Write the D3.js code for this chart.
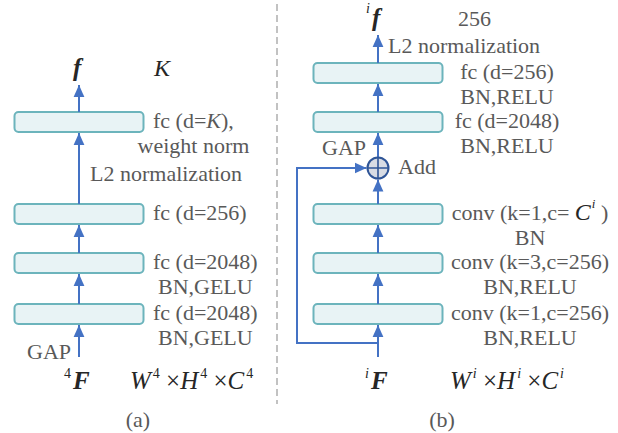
<!DOCTYPE html>
<html>
<head>
<meta charset="utf-8">
<script src="https://cdn.jsdelivr.net/npm/d3@7"></script>
<style>
  body { margin: 0; background: #fff; }
  text { font-family: "Liberation Serif", "Times New Roman", serif; }
</style>
</head>
<body>
<div id="chart"></div>
<script>
// layers, bottom to top; level = vertical slot
const leftLayers = [
  {level: 0, lines: ["fc (d=2048)", "BN,GELU"]},
  {level: 1, lines: ["fc (d=2048)", "BN,GELU"]},
  {level: 2, lines: ["fc (d=256)"]},
  {level: 4, lines: ["fc (d=K),", "weight norm"]}
];
const rightLayers = [
  {level: 0, lines: ["conv (k=1,c=256)", "BN,RELU"]},
  {level: 1, lines: ["conv (k=3,c=256)", "BN,RELU"]},
  {level: 2, lines: ["conv (k=1,c= C^i )", "BN"]},
  {level: 4, lines: ["fc (d=2048)", "BN,RELU"]},
  {level: 5, lines: ["fc (d=256)", "BN,RELU"]}
];
const addLevel = 3;
const panelNames = ["(a)", "(b)"];
const outDims = ["K", "256"];

const width = 618, height = 433;
const blue = "#4472c4", gray = "#595959", ink = "#262626";
const boxW = 129, boxH = 20;
const fs = "22px";
const lift = -2; // text sits a touch above the box centre

const svg = d3.select("#chart").append("svg")
  .attr("width", width).attr("height", height);

const defs = svg.append("defs");
defs.append("marker")
  .attr("id", "head")
  .attr("viewBox", "0 0 10 10")
  .attr("refX", 10).attr("refY", 5)
  .attr("markerWidth", 12).attr("markerHeight", 12)
  .attr("markerUnits", "userSpaceOnUse")
  .attr("orient", "auto")
  .append("path").attr("d", "M0,0.5 L10,5 L0,9.5 Z").attr("fill", blue);

const y = d3.scaleLinear()
  .domain([0, 1, 2, 3, 4, 5])
  .range([314, 263, 214, 168, 122, 73]);

// divider
svg.append("line")
  .attr("x1", 277).attr("x2", 277).attr("y1", 4).attr("y2", 404)
  .attr("stroke", "#b3b3b3").attr("stroke-width", 1.6)
  .attr("stroke-dasharray", "7,4");

function arrow(x1, y1, x2, y2) {
  svg.append("line")
    .attr("x1", x1).attr("y1", y1).attr("x2", x2).attr("y2", y2)
    .attr("stroke", blue).attr("stroke-width", 2)
    .attr("marker-end", "url(#head)");
}

function boxes(layers, cx) {
  svg.append("g").selectAll("rect")
    .data(layers).enter().append("rect")
    .attr("x", cx - boxW / 2)
    .attr("y", d => y(d.level) - boxH / 2)
    .attr("width", boxW).attr("height", boxH)
    .attr("rx", 4)
    .attr("fill", "#e8f3f5")
    .attr("stroke", "#6cb4bc").attr("stroke-width", 2);
}

function labelText(g, str, x, yy, anchor) {
  const t = g.append("text")
    .attr("x", x).attr("y", yy + lift)
    .attr("text-anchor", anchor)
    .attr("dominant-baseline", "central")
    .attr("fill", gray).style("font-size", fs);
  if (str.includes("K")) {
    const p = str.split("K");
    t.append("tspan").text(p[0]);
    t.append("tspan").attr("font-style", "italic").text("K");
    t.append("tspan").text(p[1]);
  } else if (str.includes("C^i")) {
    const p = str.split("C^i");
    t.append("tspan").text(p[0]);
    t.append("tspan").attr("font-style", "italic").attr("fill", ink)
      .style("font-size", "24px").text("C");
    t.append("tspan").attr("font-style", "italic").attr("fill", ink)
      .attr("dy", -9).attr("dx", 1).style("font-size", "13px").text("i");
    t.append("tspan").attr("dy", 9).text(p[1]);
  } else {
    t.text(str);
  }
  return t;
}

// ---- left panel (a)
const lx = 79;
boxes(leftLayers, lx);
const lg = svg.append("g");
leftLayers.forEach(d => {
  const t1 = labelText(lg, d.lines[0], 153, y(d.level), "start");
  if (d.lines[1]) {
    const w = t1.node().getComputedTextLength();
    labelText(lg, d.lines[1], 153 + w / 2, y(d.level) + 25, "middle");
  }
});
arrow(lx, 357, lx, y(0) + boxH / 2 + 1);
for (let i = 1; i < leftLayers.length; i++) {
  arrow(lx, y(leftLayers[i - 1].level) - boxH / 2,
        lx, y(leftLayers[i].level) + boxH / 2 + 1);
}
arrow(lx, y(4) - boxH / 2, lx, 85);
labelText(lg, "L2 normalization", 90, 175, "start");
labelText(lg, "GAP", 27, 353, "start");

// ---- right panel (b)
const rx = 378;
boxes(rightLayers, rx);
const rg = svg.append("g");
rightLayers.forEach(d => {
  const cx = d.level >= 4 ? 507 : 530;
  labelText(rg, d.lines[0], cx, y(d.level), "middle");
  if (d.lines[1]) labelText(rg, d.lines[1], cx, y(d.level) + 25, "middle");
});
const addR = 10.5;
arrow(rx, 357, rx, y(0) + boxH / 2 + 1);
arrow(rx, y(0) - boxH / 2, rx, y(1) + boxH / 2 + 1);
arrow(rx, y(1) - boxH / 2, rx, y(2) + boxH / 2 + 1);
arrow(rx, y(2) - boxH / 2, rx, y(addLevel) + addR + 1);
arrow(rx, y(addLevel) - addR, rx, y(4) + boxH / 2 + 1);
arrow(rx, y(4) - boxH / 2, rx, y(5) + boxH / 2 + 1);
arrow(rx, y(5) - boxH / 2, rx, 35);

// skip connection
svg.append("path")
  .attr("d", `M${rx},${343} H297 V${y(addLevel)} H${rx - addR - 1}`)
  .attr("fill", "none").attr("stroke", blue).attr("stroke-width", 2)
  .attr("marker-end", "url(#head)");

const add = svg.append("g");
add.append("circle").attr("cx", rx).attr("cy", y(addLevel)).attr("r", addR)
  .attr("fill", "#d8dce4").attr("stroke", "#2f5597").attr("stroke-width", 2);
add.append("path")
  .attr("d", `M${rx - addR},${y(addLevel)} H${rx + addR} M${rx},${y(addLevel) - addR} V${y(addLevel) + addR}`)
  .attr("stroke", "#2f5597").attr("stroke-width", 1.6);
labelText(rg, "Add", 398, y(addLevel), "start");
labelText(rg, "GAP", 322, 149, "start");
labelText(rg, "L2 normalization", 388, 47, "start");

// ---- math labels
function supStyle(ts, sup) {
  ts.style("font-size", "14px").attr("font-style", sup === "i" ? "italic" : null);
}
function mathF(x, yy, sup, glyph) {
  const t = svg.append("text").attr("x", x).attr("y", yy)
    .attr("fill", ink).style("font-size", "25px");
  supStyle(t.append("tspan").attr("dy", -11).text(sup), sup);
  t.append("tspan").attr("dy", 11).attr("dx", 2)
    .attr("font-weight", "bold").attr("font-style", "italic").text(glyph);
}
function dims(x, yy, sup) {
  const t = svg.append("text").attr("x", x).attr("y", yy)
    .attr("fill", ink).style("font-size", "25px");
  ["W", "H", "C"].forEach((c, i) => {
    if (i > 0) t.append("tspan").attr("dy", 11).text(" \u00d7");
    t.append("tspan").attr("font-style", "italic").text(c);
    supStyle(t.append("tspan").attr("dy", -11).attr("dx", 2).text(sup), sup);
  });
}
mathF(64, 389, "4", "F");
dims(130, 389, "4");
mathF(365, 389, "i", "F");
dims(450, 389, "i");

svg.append("text").attr("x", 73).attr("y", 76).attr("fill", ink)
  .attr("font-weight", "bold").attr("font-style", "italic")
  .style("font-size", "25px").text("f");
svg.append("text").attr("x", 154).attr("y", 76).attr("fill", ink)
  .attr("font-style", "italic").style("font-size", "24px").text(outDims[0]);
svg.append("text").attr("x", 366).attr("y", 13).attr("fill", ink)
  .attr("font-style", "italic").style("font-size", "14px").text("i");
svg.append("text").attr("x", 372).attr("y", 26).attr("fill", ink)
  .attr("font-weight", "bold").attr("font-style", "italic")
  .style("font-size", "25px").text("f");
labelText(svg, outDims[1], 458, 20, "start");

svg.append("g").selectAll("text.cap")
  .data(panelNames).enter().append("text")
  .attr("x", (d, i) => i === 0 ? 138 : 442).attr("y", 419)
  .attr("text-anchor", "middle").attr("dominant-baseline", "central")
  .attr("fill", gray).style("font-size", fs)
  .text(d => d);
</script>
</body>
</html>
